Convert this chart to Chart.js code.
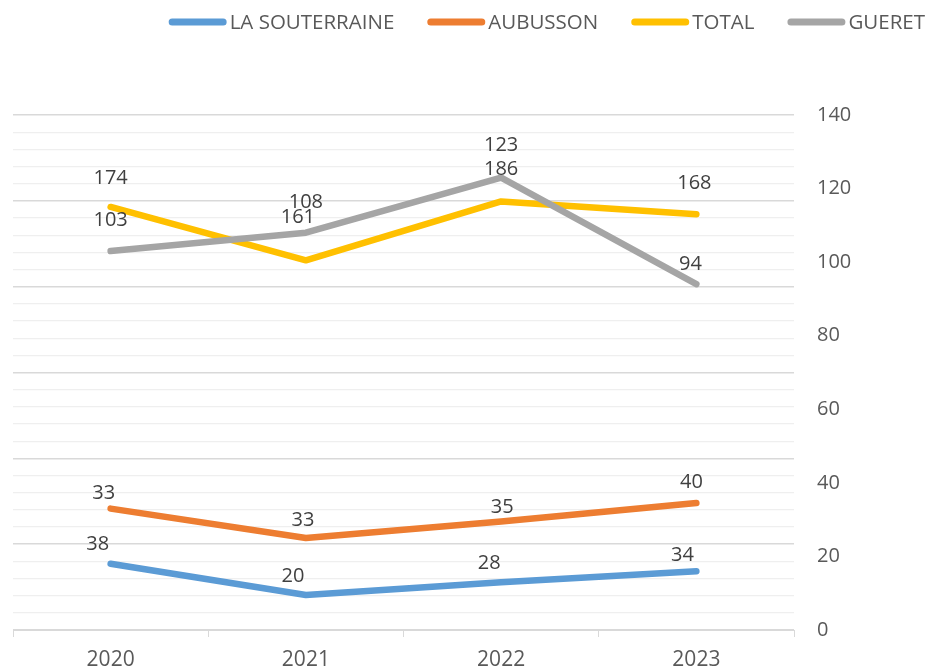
<!DOCTYPE html>
<html>
<head>
<meta charset="utf-8">
<script src="https://cdn.jsdelivr.net/npm/chart.js@4.4.0/dist/chart.umd.min.js"></script>
<style>
  html, body { margin: 0; padding: 0; background: #fff; }
  #wrap { width: 929px; height: 669px; }
</style>
</head>
<body>
<div id="wrap"><canvas id="chart"></canvas></div>
<script>
// categories
const years = ['2020', '2021', '2022', '2023'];
const seriesNames = ['LA SOUTERRAINE', 'AUBUSSON', 'TOTAL', 'GUERET'];
// plotted values (read on the right axis)
const laSouterraine = [18, 9.5, 13, 16];
const aubusson = [33, 25, 29.5, 34.5];
const total = [115, 100.5, 116.5, 113];
const gueret = [103, 108, 123, 94];
// texts written next to the points
const laSouterraineLabels = ['38', '20', '28', '34'];
const aubussonLabels = ['33', '33', '35', '40'];
const totalLabels = ['174', '161', '186', '168'];
const gueretLabels = ['103', '108', '123', '94'];
// right axis
const yMin = 0, yMax = 140, yStep = 20;

const colors = ['#5B9BD5', '#ED7D31', '#FFC000', '#A5A5A5'];
const FONT = "'Open Sans', sans-serif";
const textColor = '#595959';

Chart.defaults.font.family = FONT;

// label shifts (dx, dy above the point) per series, like in the excel sheet
const labelShift = [
    [[-13, 19], [-13, 19], [-12, 19], [-14, 16]],
    [[-7, 15], [-3, 18], [1, 14], [-5, 21]],
    [[0, 29], [-8, 43], [0, 32], [-2, 31]],
    [[0, 31], [0, 30], [0, 32], [-6, 20]],
];

const pointLabels = {
    id: 'pointLabels',
    afterDatasetsDraw(chart) {
        const ctx = chart.ctx;
        ctx.save();
        ctx.font = '20px ' + FONT;
        ctx.fillStyle = '#404040';
        ctx.textAlign = 'center';
        ctx.textBaseline = 'middle';
        chart.data.datasets.forEach((ds, i) => {
            const meta = chart.getDatasetMeta(i);
            meta.data.forEach((pt, j) => {
                const s = labelShift[i][j];
                ctx.fillText(ds.pointTexts[j], pt.x + s[0], pt.y - s[1]);
            });
        });
        ctx.restore();
    }
};

// legend drawn by hand: line sample then text, right aligned
const lineLegend = {
    id: 'lineLegend',
    afterDraw(chart) {
        const ctx = chart.ctx;
        ctx.save();
        ctx.font = '20.5px ' + FONT;
        const gap = 33, sample = 58, textGap = 3;
        const widths = chart.data.datasets.map(ds => sample + textGap + ctx.measureText(ds.label).width);
        let x = 925 - widths.reduce((a, b) => a + b, 0) - gap * (widths.length - 1);
        const y = 22;
        chart.data.datasets.forEach((ds, i) => {
            ctx.beginPath();
            ctx.lineWidth = 7;
            ctx.lineCap = 'round';
            ctx.strokeStyle = ds.borderColor;
            ctx.moveTo(x + 3.5, y);
            ctx.lineTo(x + sample - 3.5, y);
            ctx.stroke();
            ctx.fillStyle = textColor;
            ctx.textAlign = 'left';
            ctx.textBaseline = 'middle';
            ctx.fillText(ds.label, x + sample + textGap, y + 1);
            x += widths[i] + gap;
        });
        ctx.restore();
    }
};

const values = [laSouterraine, aubusson, total, gueret];
const texts = [laSouterraineLabels, aubussonLabels, totalLabels, gueretLabels];

const data = {
    labels: years,
    datasets: seriesNames.map((name, i) => ({
        label: name,
        data: values[i],
        pointTexts: texts[i],
        borderColor: colors[i],
        backgroundColor: colors[i],
        borderWidth: 6.5,
        borderCapStyle: 'round',
        borderJoinStyle: 'round',
        pointRadius: 0,
        tension: 0,
        yAxisID: 'y',
        order: 3 - i   // gueret on top
    }))
};

const config = {
    type: 'line',
    data,
    options: {
        responsive: true,
        maintainAspectRatio: false,
        animation: false,
        devicePixelRatio: 1,
        layout: {
            padding: { top: 115, left: 13, right: 0, bottom: 0 }
        },
        scales: {
            x: {
                offset: true,
                grid: {
                    offset: true,
                    drawOnChartArea: false,
                    drawTicks: true,
                    tickLength: 7,
                    color: '#d9d9d9'
                },
                border: { color: '#d9d9d9' },
                ticks: { color: textColor, font: { size: 21 }, padding: 10 },
                afterFit(s) { s.height = 39; }
            },
            // gridlines only (hidden primary axis)
            g: {
                position: 'left',
                min: 0,
                max: 30,
                ticks: { stepSize: 1, display: false },
                grid: {
                    drawTicks: false,
                    color: c => c.tick.value % 5 === 0 ? '#d9d9d9' : '#efefef',
                    lineWidth: c => c.tick.value % 5 === 0 ? 1.5 : 1.3
                },
                border: { display: false },
                afterFit(s) { s.width = 0; }
            },
            y: {
                position: 'right',
                min: yMin,
                max: yMax,
                ticks: { stepSize: yStep, padding: 23, color: textColor, font: { size: 20 } },
                grid: { display: false, drawTicks: false },
                border: { display: false },
                afterFit(s) { s.width = 135; }
            }
        },
        plugins: {
            legend: { display: false },
            tooltip: { enabled: false }
        }
    },
    plugins: [pointLabels, lineLegend]
};

var chart = document.getElementById('chart');
var myChart = new Chart(chart, config);
</script>
</body>
</html>
